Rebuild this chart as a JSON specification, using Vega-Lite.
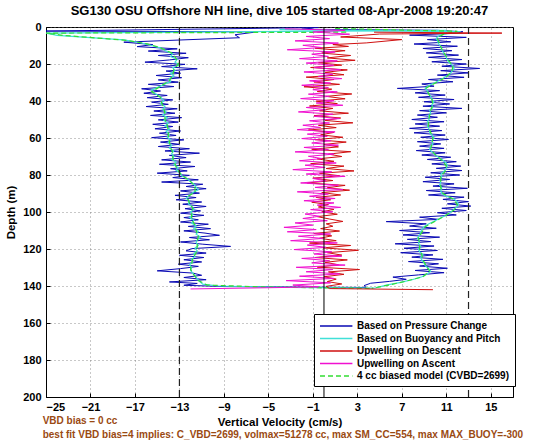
{
"$schema": "https://vega.github.io/schema/vega-lite/v6.json",
"width": 467, "height": 370,
"autosize": {"type": "none"},
"padding": {"left": 46, "top": 27, "right": 41, "bottom": 45},
"background": "white",
"title": {"text": "SG130 OSU Offshore NH line, dive 105 started 08-Apr-2008 19:20:47", "font": "Liberation Sans", "fontSize": 13, "fontWeight": "bold", "color": "black", "offset": 3, "anchor": "middle"},
"config": {
  "view": {"stroke": "black", "strokeWidth": 1},
  "font": "Liberation Sans",
  "axis": {"labelFont": "Liberation Sans", "labelFontWeight": "bold", "labelFontSize": 11, "labelColor": "black", "labelOverlap": false, "titleFont": "Liberation Sans", "titleFontWeight": "bold", "titleFontSize": 11.5, "titleColor": "black", "domainColor": "black", "tickColor": "black", "tickSize": -4, "grid": true, "gridColor": "#777", "gridDash": [1, 3], "gridOpacity": 0.8}
},
"datasets": {
"blue": [
{"d":0.3,"v":-0.5,"g":1},{"d":2.2,"v":-25,"g":1},{"d":2.6,"v":-6,"g":1},{"d":4.2,"v":-8,"g":1},{"d":5.8,"v":-7.6,"g":1},{"d":8.2,"v":-18,"g":1},{"d":9.5,"v":-15.4,"g":1},{"d":10.6,"v":-16.8,"g":1},{"d":11.8,"v":-13.2,"g":1},{"d":13,"v":-15.8,"g":1},{"d":14.2,"v":-12.4,"g":1},{"d":15.4,"v":-14.9,"g":1},{"d":16.6,"v":-12.2,"g":1},{"d":17.8,"v":-13.9,"g":1},{"d":19,"v":-16.1,"g":1},{"d":20.2,"v":-12.5,"g":1},{"d":21.4,"v":-14.6,"g":1},{"d":22.6,"v":-11.4,"g":1},{"d":23.8,"v":-14.2,"g":1},{"d":25,"v":-12.9,"g":1},{"d":26.2,"v":-15.1,"g":1},{"d":27.4,"v":-12.8,"g":1},{"d":28.6,"v":-14.9,"g":1},{"d":29.8,"v":-13.1,"g":1},{"d":31,"v":-15.8,"g":1},{"d":32.2,"v":-13.5,"g":1},{"d":33.4,"v":-16.4,"g":1},{"d":34.6,"v":-14.7,"g":1},{"d":35.8,"v":-16.2,"g":1},{"d":37,"v":-14.1,"g":1},{"d":38.2,"v":-15.9,"g":1},{"d":39.4,"v":-13.6,"g":1},{"d":40.6,"v":-15.5,"g":1},{"d":41.8,"v":-14.0,"g":1},{"d":43,"v":-16.0,"g":1},{"d":44.2,"v":-13.2,"g":1},{"d":45.4,"v":-15.3,"g":1},{"d":46.6,"v":-13.4,"g":1},{"d":47.8,"v":-15.6,"g":1},{"d":49,"v":-12.8,"g":1},{"d":50.2,"v":-14.9,"g":1},{"d":51.4,"v":-13.1,"g":1},{"d":52.6,"v":-15.4,"g":1},{"d":53.8,"v":-13.6,"g":1},{"d":55,"v":-15.2,"g":1},{"d":56.2,"v":-12.9,"g":1},{"d":57.4,"v":-14.8,"g":1},{"d":58.6,"v":-13.3,"g":1},{"d":59.8,"v":-15.5,"g":1},{"d":61,"v":-12.6,"g":1},{"d":62.2,"v":-14.7,"g":1},{"d":63.4,"v":-13.0,"g":1},{"d":64.6,"v":-14.9,"g":1},{"d":65.8,"v":-12.1,"g":1},{"d":67,"v":-14.3,"g":1},{"d":68.2,"v":-11.2,"g":1},{"d":69.4,"v":-13.9,"g":1},{"d":70.6,"v":-12.4,"g":1},{"d":71.8,"v":-14.6,"g":1},{"d":73,"v":-12.0,"g":1},{"d":74.2,"v":-14.8,"g":1},{"d":75.4,"v":-11.6,"g":1},{"d":76.6,"v":-13.8,"g":1},{"d":77.8,"v":-12.3,"g":1},{"d":79,"v":-15.0,"g":1},{"d":80.2,"v":-12.1,"g":1},{"d":81.4,"v":-13.6,"g":1},{"d":82.6,"v":-11.3,"g":1},{"d":83.8,"v":-14.6,"g":1},{"d":85,"v":-10.9,"g":1},{"d":86.2,"v":-12.4,"g":1},{"d":87.4,"v":-10.6,"g":1},{"d":88.6,"v":-12.9,"g":1},{"d":89.8,"v":-11.2,"g":1},{"d":91,"v":-13.4,"g":1},{"d":92.2,"v":-11.5,"g":1},{"d":93.4,"v":-13.3,"g":1},{"d":94.6,"v":-11.0,"g":1},{"d":95.8,"v":-12.7,"g":1},{"d":97,"v":-10.6,"g":1},{"d":98.2,"v":-12.5,"g":1},{"d":99.4,"v":-11.1,"g":1},{"d":100.6,"v":-12.9,"g":1},{"d":101.8,"v":-10.8,"g":1},{"d":103,"v":-12.6,"g":1},{"d":104.2,"v":-11.3,"g":1},{"d":105.4,"v":-12.9,"g":1},{"d":106.6,"v":-10.4,"g":1},{"d":107.8,"v":-12.2,"g":1},{"d":109,"v":-10.2,"g":1},{"d":110.2,"v":-12.6,"g":1},{"d":111.4,"v":-10.7,"g":1},{"d":112.6,"v":-9.4,"g":1},{"d":113.8,"v":-12.1,"g":1},{"d":115,"v":-10.3,"g":1},{"d":116.2,"v":-12.9,"g":1},{"d":117.4,"v":-10.9,"g":1},{"d":118.6,"v":-8.4,"g":1},{"d":119.8,"v":-11.9,"g":1},{"d":121,"v":-12.4,"g":1},{"d":122.2,"v":-10.6,"g":1},{"d":123.4,"v":-13.0,"g":1},{"d":124.6,"v":-10.8,"g":1},{"d":125.8,"v":-12.6,"g":1},{"d":127,"v":-11.0,"g":1},{"d":128.2,"v":-13.1,"g":1},{"d":129.4,"v":-11.3,"g":1},{"d":130.6,"v":-12.9,"g":1},{"d":131.8,"v":-15.0,"g":1},{"d":133,"v":-11.8,"g":1},{"d":134.2,"v":-11.0,"g":1},{"d":135.4,"v":-12.6,"g":1},{"d":136.6,"v":-10.6,"g":1},{"d":137.8,"v":-13.9,"g":1},{"d":138.6,"v":-11.4,"g":1},{"d":139.6,"v":-12.6,"g":1},{"d":140.3,"v":-9,"g":1},{"d":140.8,"v":3.8,"g":1},
{"d":140.8,"v":3.8,"g":2},{"d":139.8,"v":3.6,"g":2},{"d":138.5,"v":4.2,"g":2},{"d":137.5,"v":5.9,"g":2},{"d":136.4,"v":7.4,"g":2},{"d":135.2,"v":6.2,"g":2},{"d":134,"v":8.5,"g":2},{"d":132.8,"v":10.8,"g":2},{"d":131.6,"v":8.2,"g":2},{"d":130.4,"v":11.1,"g":2},{"d":129.2,"v":8.6,"g":2},{"d":128,"v":10.3,"g":2},{"d":126.8,"v":7.6,"g":2},{"d":125.6,"v":10.7,"g":2},{"d":124.4,"v":7.9,"g":2},{"d":123.2,"v":9.8,"g":2},{"d":122,"v":6.9,"g":2},{"d":120.8,"v":10.2,"g":2},{"d":119.6,"v":7.2,"g":2},{"d":118.4,"v":9.9,"g":2},{"d":117.2,"v":6.4,"g":2},{"d":116,"v":9.6,"g":2},{"d":114.8,"v":7.5,"g":2},{"d":113.6,"v":10.4,"g":2},{"d":112.4,"v":7.1,"g":2},{"d":111.2,"v":9.5,"g":2},{"d":110,"v":6.8,"g":2},{"d":108.8,"v":10.1,"g":2},{"d":107.6,"v":7.7,"g":2},{"d":106.4,"v":9.2,"g":2},{"d":105.2,"v":5.6,"g":2},{"d":104,"v":10.3,"g":2},{"d":102.8,"v":8.6,"g":2},{"d":101.6,"v":11.9,"g":2},{"d":100.4,"v":10.2,"g":2},{"d":99.2,"v":12.8,"g":2},{"d":98,"v":10.6,"g":2},{"d":96.8,"v":13.2,"g":2},{"d":95.6,"v":11.1,"g":2},{"d":94.4,"v":13.0,"g":2},{"d":93.2,"v":10.7,"g":2},{"d":92,"v":12.6,"g":2},{"d":90.8,"v":9.4,"g":2},{"d":89.6,"v":11.8,"g":2},{"d":88.4,"v":9.2,"g":2},{"d":87.2,"v":12.9,"g":2},{"d":86,"v":9.8,"g":2},{"d":84.8,"v":11.7,"g":2},{"d":83.6,"v":8.9,"g":2},{"d":82.4,"v":11.3,"g":2},{"d":81.2,"v":9.1,"g":2},{"d":80,"v":12.2,"g":2},{"d":78.8,"v":9.6,"g":2},{"d":77.6,"v":12.4,"g":2},{"d":76.4,"v":10.1,"g":2},{"d":75.2,"v":12.3,"g":2},{"d":74,"v":9.7,"g":2},{"d":72.8,"v":11.9,"g":2},{"d":71.6,"v":9.3,"g":2},{"d":70.4,"v":11.4,"g":2},{"d":69.2,"v":8.8,"g":2},{"d":68,"v":10.9,"g":2},{"d":66.8,"v":8.3,"g":2},{"d":65.6,"v":10.8,"g":2},{"d":64.4,"v":8.6,"g":2},{"d":63.2,"v":10.5,"g":2},{"d":62,"v":8.4,"g":2},{"d":60.8,"v":11.2,"g":2},{"d":59.6,"v":8.7,"g":2},{"d":58.4,"v":10.9,"g":2},{"d":57.2,"v":8.1,"g":2},{"d":56,"v":10.6,"g":2},{"d":54.8,"v":7.7,"g":2},{"d":53.6,"v":10.4,"g":2},{"d":52.4,"v":8.2,"g":2},{"d":51.2,"v":10.8,"g":2},{"d":50,"v":7.9,"g":2},{"d":48.8,"v":10.2,"g":2},{"d":47.6,"v":8.4,"g":2},{"d":46.4,"v":11.0,"g":2},{"d":45.2,"v":8.6,"g":2},{"d":44,"v":12.4,"g":2},{"d":42.8,"v":8.9,"g":2},{"d":41.6,"v":11.3,"g":2},{"d":40.4,"v":9.0,"g":2},{"d":39.2,"v":11.7,"g":2},{"d":38,"v":8.5,"g":2},{"d":36.8,"v":10.9,"g":2},{"d":35.6,"v":8.2,"g":2},{"d":34.4,"v":10.4,"g":2},{"d":33.2,"v":6.6,"g":2},{"d":32,"v":9.9,"g":2},{"d":30.8,"v":8.8,"g":2},{"d":29.6,"v":11.6,"g":2},{"d":28.4,"v":9.4,"g":2},{"d":27.2,"v":12.6,"g":2},{"d":26,"v":10.2,"g":2},{"d":24.8,"v":13.0,"g":2},{"d":23.6,"v":10.5,"g":2},{"d":22.4,"v":14.0,"g":2},{"d":21.2,"v":10.6,"g":2},{"d":20,"v":12.8,"g":2},{"d":18.8,"v":9.7,"g":2},{"d":17.6,"v":12.4,"g":2},{"d":16.4,"v":9.4,"g":2},{"d":15.2,"v":12.1,"g":2},{"d":14,"v":9.2,"g":2},{"d":12.8,"v":11.5,"g":2},{"d":11.6,"v":8.9,"g":2},{"d":10.4,"v":12.0,"g":2},{"d":9.2,"v":8.1,"g":2},{"d":8,"v":11.4,"g":2},{"d":6.8,"v":9.3,"g":2},{"d":5.6,"v":12.8,"g":2},{"d":4.4,"v":7.7,"g":2},{"d":3.4,"v":11.9,"g":2},{"d":2.6,"v":12.5,"g":2},{"d":1.8,"v":10.2,"g":2},{"d":1.2,"v":-2,"g":2},{"d":0.6,"v":-1,"g":2}
],
"cyan": [
{"d":1.8,"v":11,"g":1},{"d":3.3,"v":-25,"g":1},{"d":4.5,"v":-24,"g":1},{"d":7,"v":-18,"g":1},{"d":8.5,"v":-16.5,"g":1},{"d":10,"v":-15.5,"g":1},{"d":11.5,"v":-14.6,"g":1},{"d":13,"v":-14.2,"g":1},{"d":14.5,"v":-13.6,"g":1},{"d":16,"v":-13.8,"g":1},{"d":17.5,"v":-13.2,"g":1},{"d":19,"v":-13.4,"g":1},{"d":20.5,"v":-13.0,"g":1},{"d":22,"v":-13.6,"g":1},{"d":23.5,"v":-13.4,"g":1},{"d":25,"v":-13.8,"g":1},{"d":26.5,"v":-13.5,"g":1},{"d":28,"v":-13.9,"g":1},{"d":29.5,"v":-13.8,"g":1},{"d":31,"v":-14.4,"g":1},{"d":32.5,"v":-14.9,"g":1},{"d":34,"v":-15.5,"g":1},{"d":35.5,"v":-15.3,"g":1},{"d":37,"v":-14.9,"g":1},{"d":38.5,"v":-14.6,"g":1},{"d":40,"v":-14.4,"g":1},{"d":41.5,"v":-14.7,"g":1},{"d":43,"v":-14.3,"g":1},{"d":44.5,"v":-14.5,"g":1},{"d":46,"v":-14.2,"g":1},{"d":47.5,"v":-14.5,"g":1},{"d":49,"v":-14.1,"g":1},{"d":50.5,"v":-14.4,"g":1},{"d":52,"v":-14.0,"g":1},{"d":53.5,"v":-14.3,"g":1},{"d":55,"v":-13.9,"g":1},{"d":56.5,"v":-14.2,"g":1},{"d":58,"v":-13.9,"g":1},{"d":59.5,"v":-14.1,"g":1},{"d":61,"v":-13.8,"g":1},{"d":62.5,"v":-14.0,"g":1},{"d":64,"v":-13.7,"g":1},{"d":65.5,"v":-13.9,"g":1},{"d":67,"v":-13.5,"g":1},{"d":68.5,"v":-13.7,"g":1},{"d":70,"v":-13.5,"g":1},{"d":71.5,"v":-13.7,"g":1},{"d":73,"v":-13.3,"g":1},{"d":74.5,"v":-13.5,"g":1},{"d":76,"v":-13.1,"g":1},{"d":77.5,"v":-13.3,"g":1},{"d":79,"v":-12.9,"g":1},{"d":80.5,"v":-12.8,"g":1},{"d":82,"v":-12.3,"g":1},{"d":83.5,"v":-12.0,"g":1},{"d":85,"v":-11.7,"g":1},{"d":86.5,"v":-11.5,"g":1},{"d":88,"v":-11.3,"g":1},{"d":89.5,"v":-11.8,"g":1},{"d":91,"v":-12.1,"g":1},{"d":92.5,"v":-12.4,"g":1},{"d":94,"v":-12.1,"g":1},{"d":95.5,"v":-12.2,"g":1},{"d":97,"v":-11.9,"g":1},{"d":98.5,"v":-11.7,"g":1},{"d":100,"v":-12.0,"g":1},{"d":101.5,"v":-11.8,"g":1},{"d":103,"v":-12.1,"g":1},{"d":104.5,"v":-11.7,"g":1},{"d":106,"v":-11.9,"g":1},{"d":107.5,"v":-11.5,"g":1},{"d":109,"v":-11.7,"g":1},{"d":110.5,"v":-11.3,"g":1},{"d":112,"v":-11.5,"g":1},{"d":113.5,"v":-11.1,"g":1},{"d":115,"v":-11.4,"g":1},{"d":116.5,"v":-11.5,"g":1},{"d":118,"v":-11.3,"g":1},{"d":119.5,"v":-11.6,"g":1},{"d":121,"v":-11.4,"g":1},{"d":122.5,"v":-11.7,"g":1},{"d":124,"v":-11.6,"g":1},{"d":125.5,"v":-11.9,"g":1},{"d":127,"v":-11.8,"g":1},{"d":128.5,"v":-12.1,"g":1},{"d":130,"v":-11.9,"g":1},{"d":131.5,"v":-12.0,"g":1},{"d":133,"v":-11.8,"g":1},{"d":134.5,"v":-11.6,"g":1},{"d":136,"v":-11.4,"g":1},{"d":137.5,"v":-11.2,"g":1},{"d":139,"v":-10.9,"g":1},{"d":140,"v":-9.5,"g":1},{"d":140.8,"v":-3,"g":1},{"d":141.2,"v":4.5,"g":1},
{"d":141.2,"v":4.5,"g":2},{"d":139.5,"v":5.6,"g":2},{"d":138,"v":6.9,"g":2},{"d":136.5,"v":8.0,"g":2},{"d":135,"v":8.8,"g":2},{"d":133.5,"v":9.3,"g":2},{"d":132,"v":9.6,"g":2},{"d":130.5,"v":9.4,"g":2},{"d":129,"v":9.1,"g":2},{"d":127.5,"v":9.0,"g":2},{"d":126,"v":8.8,"g":2},{"d":124.5,"v":8.7,"g":2},{"d":123,"v":8.9,"g":2},{"d":121.5,"v":8.6,"g":2},{"d":120,"v":8.5,"g":2},{"d":118.5,"v":8.7,"g":2},{"d":117,"v":8.5,"g":2},{"d":115.5,"v":8.6,"g":2},{"d":114,"v":8.4,"g":2},{"d":112.5,"v":8.6,"g":2},{"d":111,"v":8.7,"g":2},{"d":109.5,"v":8.8,"g":2},{"d":108,"v":9.0,"g":2},{"d":106.5,"v":9.4,"g":2},{"d":105,"v":9.9,"g":2},{"d":103.5,"v":10.4,"g":2},{"d":102,"v":10.9,"g":2},{"d":100.5,"v":11.3,"g":2},{"d":99,"v":11.6,"g":2},{"d":97.5,"v":11.9,"g":2},{"d":96,"v":12.1,"g":2},{"d":94.5,"v":12.0,"g":2},{"d":93,"v":11.7,"g":2},{"d":91.5,"v":11.0,"g":2},{"d":90,"v":10.6,"g":2},{"d":88.5,"v":10.5,"g":2},{"d":87,"v":10.6,"g":2},{"d":85.5,"v":10.4,"g":2},{"d":84,"v":10.5,"g":2},{"d":82.5,"v":10.4,"g":2},{"d":81,"v":10.6,"g":2},{"d":79.5,"v":10.5,"g":2},{"d":78,"v":10.8,"g":2},{"d":76.5,"v":11.0,"g":2},{"d":75,"v":11.1,"g":2},{"d":73.5,"v":11.0,"g":2},{"d":72,"v":10.7,"g":2},{"d":70.5,"v":10.3,"g":2},{"d":69,"v":10.0,"g":2},{"d":67.5,"v":9.7,"g":2},{"d":66,"v":9.5,"g":2},{"d":64.5,"v":9.6,"g":2},{"d":63,"v":9.8,"g":2},{"d":61.5,"v":9.7,"g":2},{"d":60,"v":9.9,"g":2},{"d":58.5,"v":9.7,"g":2},{"d":57,"v":9.5,"g":2},{"d":55.5,"v":9.5,"g":2},{"d":54,"v":9.3,"g":2},{"d":52.5,"v":9.4,"g":2},{"d":51,"v":9.3,"g":2},{"d":49.5,"v":9.5,"g":2},{"d":48,"v":9.4,"g":2},{"d":46.5,"v":9.6,"g":2},{"d":45,"v":9.5,"g":2},{"d":43.5,"v":9.8,"g":2},{"d":42,"v":9.7,"g":2},{"d":40.5,"v":9.9,"g":2},{"d":39,"v":9.7,"g":2},{"d":37.5,"v":9.6,"g":2},{"d":36,"v":9.4,"g":2},{"d":34.5,"v":9.3,"g":2},{"d":33,"v":9.1,"g":2},{"d":31.5,"v":9.5,"g":2},{"d":30,"v":10.0,"g":2},{"d":28.5,"v":10.5,"g":2},{"d":27,"v":10.9,"g":2},{"d":25.5,"v":11.3,"g":2},{"d":24,"v":11.5,"g":2},{"d":22.5,"v":11.7,"g":2},{"d":21,"v":11.6,"g":2},{"d":19.5,"v":11.3,"g":2},{"d":18,"v":11.1,"g":2},{"d":16.5,"v":11.0,"g":2},{"d":15,"v":10.9,"g":2},{"d":13.5,"v":10.7,"g":2},{"d":12,"v":10.6,"g":2},{"d":10.5,"v":10.5,"g":2},{"d":9,"v":10.3,"g":2},{"d":7.5,"v":10.2,"g":2},{"d":6,"v":10.1,"g":2},{"d":4.5,"v":10.4,"g":2},{"d":3.3,"v":11.2,"g":2},{"d":2.5,"v":12.3,"g":2},{"d":1.4,"v":-4,"g":2}
],
"green": [
{"d":2.8,"v":2,"g":1},{"d":3.3,"v":-25,"g":1},{"d":4.5,"v":-23.5,"g":1},{"d":7.2,"v":-17.8,"g":1},{"d":9,"v":-16,"g":1},{"d":11,"v":-14.8,"g":1},{"d":14,"v":-13.7,"g":1},{"d":17,"v":-13.3,"g":1},{"d":20,"v":-13.1,"g":1},{"d":23,"v":-13.5,"g":1},{"d":26,"v":-13.6,"g":1},{"d":29,"v":-13.9,"g":1},{"d":32,"v":-14.7,"g":1},{"d":35,"v":-15.5,"g":1},{"d":38,"v":-14.7,"g":1},{"d":41,"v":-14.6,"g":1},{"d":44,"v":-14.4,"g":1},{"d":47,"v":-14.3,"g":1},{"d":50,"v":-14.3,"g":1},{"d":53,"v":-14.1,"g":1},{"d":56,"v":-14.0,"g":1},{"d":59,"v":-14.0,"g":1},{"d":62,"v":-13.9,"g":1},{"d":65,"v":-13.8,"g":1},{"d":68,"v":-13.6,"g":1},{"d":71,"v":-13.6,"g":1},{"d":74,"v":-13.4,"g":1},{"d":77,"v":-13.2,"g":1},{"d":80,"v":-12.8,"g":1},{"d":83,"v":-12.1,"g":1},{"d":86,"v":-11.6,"g":1},{"d":89,"v":-11.6,"g":1},{"d":92,"v":-12.3,"g":1},{"d":95,"v":-12.1,"g":1},{"d":98,"v":-11.8,"g":1},{"d":101,"v":-11.9,"g":1},{"d":104,"v":-11.9,"g":1},{"d":107,"v":-11.6,"g":1},{"d":110,"v":-11.5,"g":1},{"d":113,"v":-11.3,"g":1},{"d":116,"v":-11.4,"g":1},{"d":119,"v":-11.4,"g":1},{"d":122,"v":-11.5,"g":1},{"d":125,"v":-11.8,"g":1},{"d":128,"v":-11.9,"g":1},{"d":131,"v":-12.0,"g":1},{"d":134,"v":-11.7,"g":1},{"d":137,"v":-11.3,"g":1},{"d":139.5,"v":-10.5,"g":1},{"d":140.6,"v":-5,"g":1},{"d":141.3,"v":4.3,"g":1},
{"d":141.3,"v":4.3,"g":2},{"d":139.5,"v":5.8,"g":2},{"d":137.5,"v":7.3,"g":2},{"d":135,"v":8.9,"g":2},{"d":132,"v":9.5,"g":2},{"d":129,"v":9.2,"g":2},{"d":126,"v":8.9,"g":2},{"d":123,"v":8.8,"g":2},{"d":120,"v":8.6,"g":2},{"d":117,"v":8.6,"g":2},{"d":114,"v":8.5,"g":2},{"d":111,"v":8.8,"g":2},{"d":108,"v":9.1,"g":2},{"d":105,"v":10.0,"g":2},{"d":102,"v":10.9,"g":2},{"d":99,"v":11.7,"g":2},{"d":96,"v":12.0,"g":2},{"d":93,"v":11.6,"g":2},{"d":90,"v":10.7,"g":2},{"d":87,"v":10.5,"g":2},{"d":84,"v":10.5,"g":2},{"d":81,"v":10.5,"g":2},{"d":78,"v":10.9,"g":2},{"d":75,"v":11.0,"g":2},{"d":72,"v":10.6,"g":2},{"d":69,"v":10.0,"g":2},{"d":66,"v":9.6,"g":2},{"d":63,"v":9.7,"g":2},{"d":60,"v":9.8,"g":2},{"d":57,"v":9.6,"g":2},{"d":54,"v":9.4,"g":2},{"d":51,"v":9.4,"g":2},{"d":48,"v":9.5,"g":2},{"d":45,"v":9.6,"g":2},{"d":42,"v":9.8,"g":2},{"d":39,"v":9.7,"g":2},{"d":36,"v":9.4,"g":2},{"d":33,"v":9.2,"g":2},{"d":30,"v":10.1,"g":2},{"d":27,"v":11.0,"g":2},{"d":24,"v":11.5,"g":2},{"d":21,"v":11.6,"g":2},{"d":18,"v":11.2,"g":2},{"d":15,"v":10.9,"g":2},{"d":12,"v":10.6,"g":2},{"d":9,"v":10.4,"g":2},{"d":6,"v":10.2,"g":2},{"d":4,"v":10.7,"g":2},{"d":2.3,"v":12,"g":2},{"d":0.8,"v":1,"g":2}
],
"red": [
{"d":2.8,"v":4.5},{"d":3.3,"v":16},{"d":3.8,"v":5},{"d":5.4,"v":1.5},{"d":6.8,"v":7},{"d":8.6,"v":3.8},{"d":9.5,"v":0.8},{"d":10.5,"v":2.2},{"d":11.5,"v":-0.8},{"d":12.8,"v":1.9},{"d":14.1,"v":-0.2},{"d":15.4,"v":2.4},{"d":16.7,"v":0.3},{"d":18,"v":2.8},{"d":19.3,"v":-0.5},{"d":20.6,"v":1.6},{"d":21.9,"v":-1.2},{"d":23.2,"v":2.1},{"d":24.5,"v":0.1},{"d":25.8,"v":1.8},{"d":27.1,"v":-1.6},{"d":28.4,"v":0.9},{"d":29.7,"v":-0.9},{"d":31,"v":1.4},{"d":32.3,"v":-1.8},{"d":33.6,"v":0.7},{"d":34.9,"v":-0.6},{"d":36.2,"v":2.5},{"d":37.5,"v":0.2},{"d":38.8,"v":1.9},{"d":40.1,"v":-0.7},{"d":41.4,"v":1.2},{"d":42.7,"v":-1.3},{"d":44,"v":0.8},{"d":45.3,"v":-0.4},{"d":46.6,"v":2.2},{"d":47.9,"v":-0.9},{"d":49.2,"v":1.5},{"d":50.5,"v":0.1},{"d":51.8,"v":2.6},{"d":53.1,"v":-0.5},{"d":54.4,"v":1.1},{"d":55.7,"v":-1.4},{"d":57,"v":0.9},{"d":58.3,"v":-0.3},{"d":59.6,"v":1.7},{"d":60.9,"v":-0.8},{"d":62.2,"v":2.0},{"d":63.5,"v":0.0},{"d":64.8,"v":1.3},{"d":66.1,"v":-1.1},{"d":67.4,"v":2.4},{"d":68.7,"v":0.4},{"d":70,"v":1.6},{"d":71.3,"v":-0.6},{"d":72.6,"v":0.9},{"d":73.9,"v":-1.2},{"d":75.2,"v":1.8},{"d":76.5,"v":0.2},{"d":77.8,"v":2.7},{"d":79.1,"v":-0.4},{"d":80.4,"v":1.4},{"d":81.7,"v":-1.0},{"d":83,"v":0.8},{"d":84.3,"v":-1.5},{"d":85.6,"v":1.9},{"d":86.9,"v":0.3},{"d":88.2,"v":2.3},{"d":89.5,"v":-0.2},{"d":90.8,"v":1.5},{"d":92.1,"v":-0.7},{"d":93.4,"v":0.6},{"d":94.7,"v":-1.1},{"d":96,"v":0.4},{"d":97.3,"v":-0.5},{"d":98.6,"v":0.9},{"d":99.9,"v":-0.2},{"d":101.2,"v":1.2},{"d":102.5,"v":-0.6},{"d":103.8,"v":0.5},{"d":105.1,"v":1.7},{"d":106.4,"v":0.2},{"d":107.7,"v":0.8},{"d":109,"v":-0.3},{"d":110.3,"v":1.4},{"d":111.6,"v":-0.9},{"d":112.9,"v":0.7},{"d":114.2,"v":-0.4},{"d":115.5,"v":1.1},{"d":116.8,"v":-1.3},{"d":118.1,"v":2.4},{"d":119.4,"v":-0.1},{"d":120.7,"v":3.1},{"d":122,"v":0.3},{"d":123.3,"v":1.6},{"d":124.6,"v":-0.8},{"d":125.9,"v":2.1},{"d":127.2,"v":0.1},{"d":128.5,"v":1.3},{"d":129.8,"v":-0.6},{"d":131.1,"v":3.2},{"d":132.4,"v":0.4},{"d":133.7,"v":1.8},{"d":135,"v":0.0},{"d":136.3,"v":1.1},{"d":137.6,"v":0.3},{"d":138.9,"v":1.6},{"d":140.2,"v":0.2},{"d":141.4,"v":0.5},{"d":142,"v":9.8}
],
"mag": [
{"d":141.6,"v":-12},{"d":140.5,"v":-0.5},{"d":139.5,"v":-2.8},{"d":138.3,"v":0.6},{"d":137.1,"v":-3.4},{"d":135.9,"v":0.9},{"d":134.7,"v":-2.2},{"d":133.5,"v":1.4},{"d":132.3,"v":-1.6},{"d":131.1,"v":0.8},{"d":129.9,"v":-2.5},{"d":128.7,"v":1.9},{"d":127.5,"v":-1.1},{"d":126.3,"v":0.5},{"d":125.1,"v":-2.0},{"d":123.9,"v":1.6},{"d":122.7,"v":-0.9},{"d":121.5,"v":0.7},{"d":120.3,"v":-2.7},{"d":119.1,"v":0.2},{"d":117.9,"v":-1.5},{"d":116.7,"v":1.2},{"d":115.5,"v":-3.0},{"d":114.3,"v":-0.1},{"d":113.1,"v":-2.3},{"d":111.9,"v":0.6},{"d":110.7,"v":-3.3},{"d":109.5,"v":-0.7},{"d":108.3,"v":-3.6},{"d":107.1,"v":-1.0},{"d":105.9,"v":-2.6},{"d":104.7,"v":0.3},{"d":103.5,"v":-1.9},{"d":102.3,"v":-0.4},{"d":101.1,"v":-1.7},{"d":99.9,"v":0.8},{"d":98.7,"v":-1.2},{"d":97.5,"v":1.5},{"d":96.3,"v":-0.6},{"d":95.1,"v":0.9},{"d":93.9,"v":-1.8},{"d":92.7,"v":1.0},{"d":91.5,"v":-1.3},{"d":90.3,"v":0.4},{"d":89.1,"v":-2.4},{"d":87.9,"v":1.7},{"d":86.7,"v":-0.8},{"d":85.5,"v":1.3},{"d":84.3,"v":-2.1},{"d":83.1,"v":0.2},{"d":81.9,"v":-1.0},{"d":80.7,"v":1.9},{"d":79.5,"v":-1.6},{"d":78.3,"v":0.7},{"d":77.1,"v":-2.8},{"d":75.9,"v":0.1},{"d":74.7,"v":-1.7},{"d":73.5,"v":1.1},{"d":72.3,"v":-2.2},{"d":71.1,"v":-0.2},{"d":69.9,"v":-1.4},{"d":68.7,"v":0.9},{"d":67.5,"v":-2.6},{"d":66.3,"v":0.4},{"d":65.1,"v":-1.8},{"d":63.9,"v":1.3},{"d":62.7,"v":-1.1},{"d":61.5,"v":0.6},{"d":60.3,"v":-2.0},{"d":59.1,"v":0.3},{"d":57.9,"v":-1.5},{"d":56.7,"v":1.0},{"d":55.5,"v":-2.4},{"d":54.3,"v":-0.3},{"d":53.1,"v":-1.9},{"d":51.9,"v":0.5},{"d":50.7,"v":-1.3},{"d":49.5,"v":1.4},{"d":48.3,"v":-0.9},{"d":47.1,"v":0.8},{"d":45.9,"v":-2.3},{"d":44.7,"v":0.2},{"d":43.5,"v":-1.6},{"d":42.3,"v":1.7},{"d":41.1,"v":-0.7},{"d":39.9,"v":0.9},{"d":38.7,"v":-2.1},{"d":37.5,"v":0.5},{"d":36.3,"v":-1.4},{"d":35.1,"v":1.2},{"d":33.9,"v":-1.0},{"d":32.7,"v":0.4},{"d":31.5,"v":-2.0},{"d":30.3,"v":0.6},{"d":29.1,"v":-1.3},{"d":27.9,"v":1.6},{"d":26.7,"v":-0.5},{"d":25.5,"v":0.8},{"d":24.3,"v":-1.8},{"d":23.1,"v":1.5},{"d":21.9,"v":-0.9},{"d":20.7,"v":0.9},{"d":19.5,"v":-1.6},{"d":18.3,"v":1.2},{"d":17.1,"v":-2.2},{"d":15.9,"v":0.4},{"d":14.7,"v":-1.1},{"d":13.5,"v":1.0},{"d":12.3,"v":-3.3},{"d":11.1,"v":-0.2},{"d":9.9,"v":-1.9},{"d":8.7,"v":1.3},{"d":7.5,"v":-2.6},{"d":6.3,"v":0.5},{"d":5.1,"v":-1.6},{"d":3.9,"v":2.3},{"d":2.7,"v":-1.0},{"d":1.8,"v":1.9},{"d":1.0,"v":-3.5}
]
},
"layer": [
{"data": {"name": "blue"}, "mark": {"type": "line", "strokeWidth": 1, "clip": true},
 "encoding": {"x": {"field": "v", "type": "quantitative", "scale": {"domain": [-25, 17], "nice": false, "zero": false}, "axis": {"values": [-25,-21,-17,-13,-9,-5,-1,3,7,11,15], "title": "Vertical Velocity (cm/s)", "labelPadding": 8, "titlePadding": 4}},
  "y": {"field": "d", "type": "quantitative", "scale": {"domain": [0, 200], "reverse": true, "nice": false, "zero": false}, "axis": {"values": [0,20,40,60,80,100,120,140,160,180,200], "title": "Depth (m)", "labelPadding": 9, "titlePadding": 6, "labelOverlap": false, "tickCount": 11}},
  "detail": {"field": "g"}, "order": {"field": "d", "type": "quantitative"},
  "color": {"datum": "Based on Pressure Change", "type": "nominal", "scale": {"domain": ["Based on Pressure Change", "Based on Buoyancy and Pitch", "Upwelling on Descent", "Upwelling on Ascent", "4 cc biased model (CVBD=2699)"], "range": ["#0a0ab4", "#40e0d8", "#d01010", "#f010d0", "#33dd33"]},
   "legend": {"orient": "none", "legendX": 268, "legendY": 287, "title": null, "symbolType": "M-1,0H4.4", "symbolSize": 144, "symbolStrokeWidth": 1.5, "labelFont": "Liberation Sans", "labelFontSize": 10, "labelFontWeight": "bold", "labelColor": "black", "labelLimit": 300, "labelOffset": 24, "rowPadding": 0.5, "strokeColor": "black", "fillColor": "white", "padding": 5,
    "encode": {"symbols": {"update": {"strokeDash": {"signal": "datum.value === '4 cc biased model (CVBD=2699)' ? [5, 3] : [1, 0]"}}}}}}}},
{"data": {"name": "cyan"}, "mark": {"type": "line", "strokeWidth": 1.2, "clip": true},
 "encoding": {"x": {"field": "v", "type": "quantitative"}, "y": {"field": "d", "type": "quantitative"}, "detail": {"field": "g"}, "order": {"field": "d", "type": "quantitative"},
  "color": {"datum": "Based on Buoyancy and Pitch", "type": "nominal"}}},
{"data": {"name": "green"}, "mark": {"type": "line", "strokeWidth": 1.2, "strokeDash": [5, 3], "clip": true},
 "encoding": {"x": {"field": "v", "type": "quantitative"}, "y": {"field": "d", "type": "quantitative"}, "detail": {"field": "g"}, "order": {"field": "d", "type": "quantitative"},
  "color": {"datum": "4 cc biased model (CVBD=2699)", "type": "nominal"}}},
{"data": {"name": "red"}, "mark": {"type": "line", "strokeWidth": 1, "clip": true},
 "encoding": {"x": {"field": "v", "type": "quantitative"}, "y": {"field": "d", "type": "quantitative"}, "order": {"field": "d", "type": "quantitative"},
  "color": {"datum": "Upwelling on Descent", "type": "nominal"}}},
{"data": {"name": "mag"}, "mark": {"type": "line", "strokeWidth": 1, "clip": true},
 "encoding": {"x": {"field": "v", "type": "quantitative"}, "y": {"field": "d", "type": "quantitative"}, "order": {"field": "d", "type": "quantitative"},
  "color": {"datum": "Upwelling on Ascent", "type": "nominal"}}},
{"data": {"values": [{"v": 0}]}, "mark": {"type": "rule", "color": "black", "strokeWidth": 1},
 "encoding": {"x": {"field": "v", "type": "quantitative"}}},
{"data": {"values": [{"v": -13}, {"v": 13}]}, "mark": {"type": "rule", "color": "#222", "strokeWidth": 1.2, "strokeDash": [7, 4]},
 "encoding": {"x": {"field": "v", "type": "quantitative"}}},
{"data": {"values": [{"t": "VBD bias = 0 cc"}]}, "mark": {"type": "text", "align": "left", "baseline": "middle", "font": "Liberation Sans", "fontSize": 10, "fontWeight": "bold", "color": "#9a4a12"},
 "encoding": {"x": {"datum": -25.3, "type": "quantitative"}, "y": {"datum": 213, "type": "quantitative"}, "text": {"field": "t"}}},
{"data": {"values": [{"t": "best fit VBD bias=4 implies: C_VBD=2699, volmax=51278 cc, max SM_CC=554, max MAX_BUOY=-300"}]}, "mark": {"type": "text", "align": "left", "baseline": "middle", "font": "Liberation Sans", "fontSize": 10, "fontWeight": "bold", "color": "#9a4a12"},
 "encoding": {"x": {"datum": -25.3, "type": "quantitative"}, "y": {"datum": 220.6, "type": "quantitative"}, "text": {"field": "t"}}}
]
}
